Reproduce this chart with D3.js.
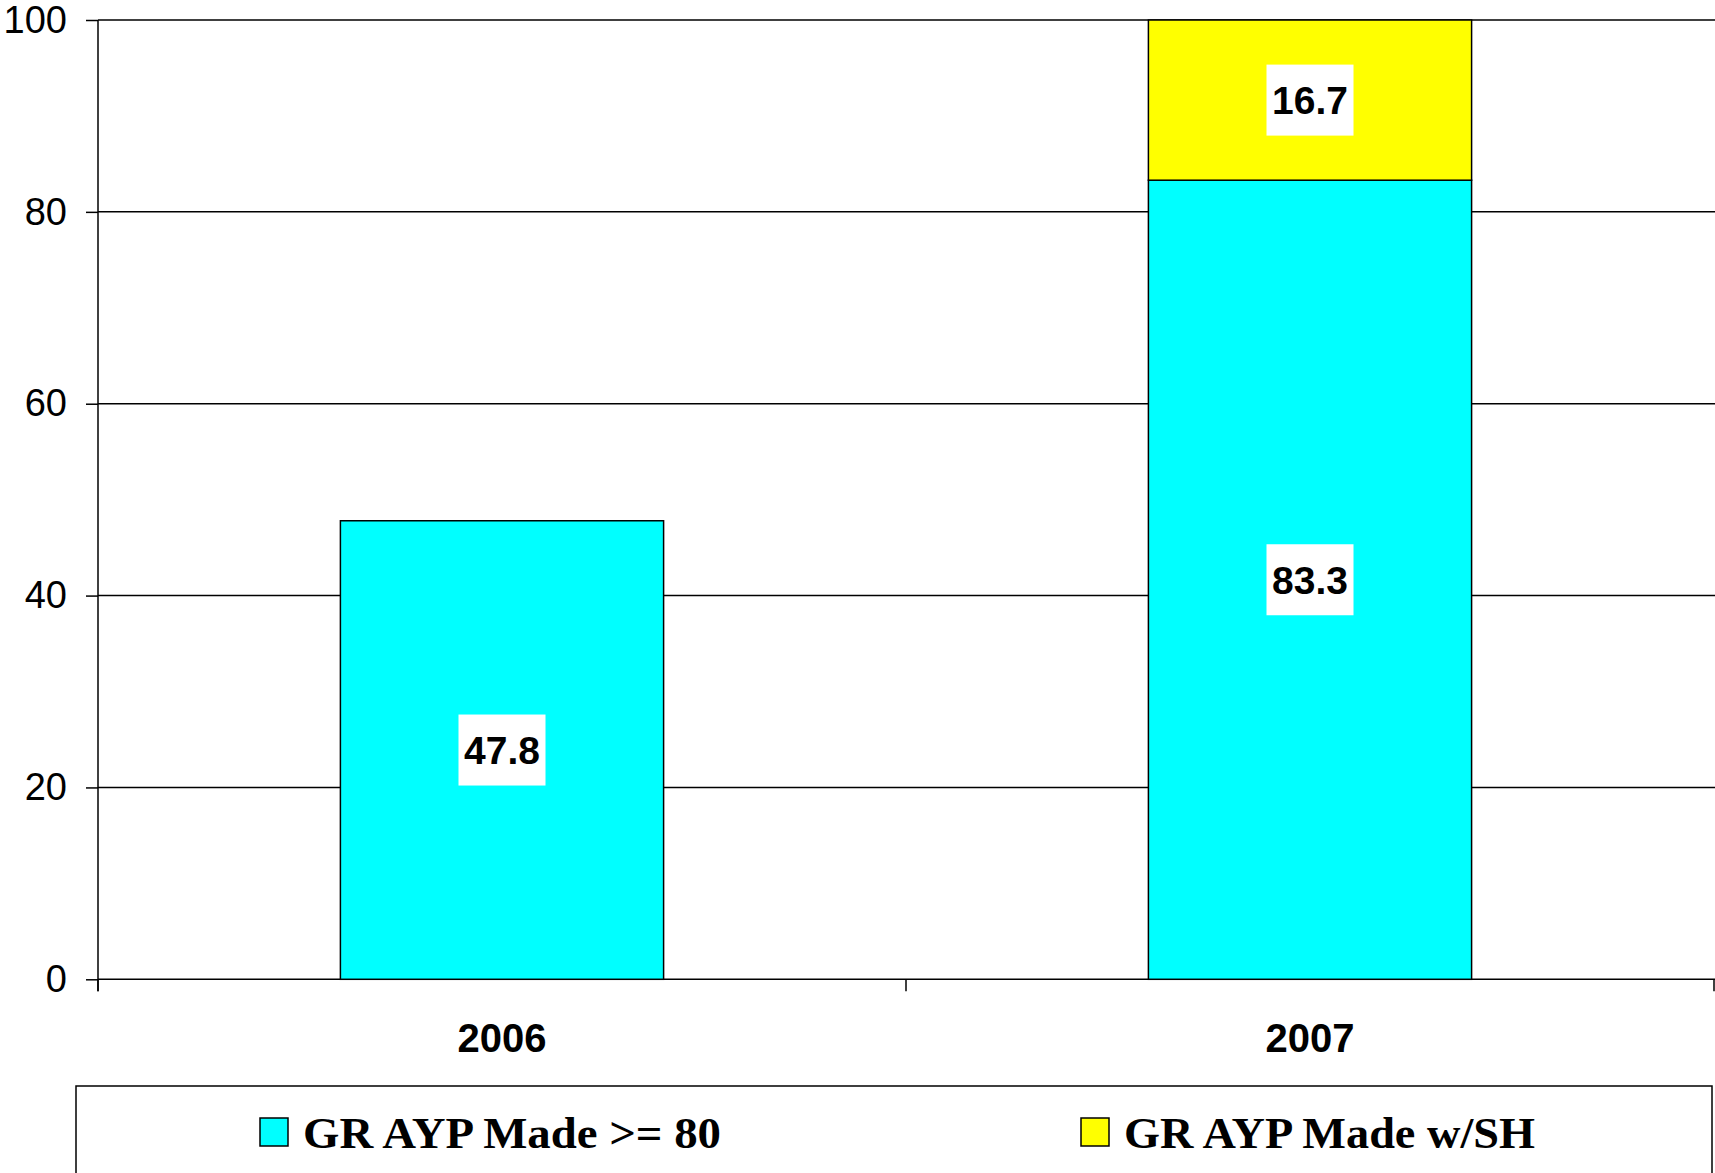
<!DOCTYPE html>
<html><head><meta charset="utf-8">
<script src="https://cdn.jsdelivr.net/npm/d3@7"></script>
<style>html,body{margin:0;padding:0;background:#fff;}svg{display:block;}</style>
</head><body>
<svg id="chart" width="1715" height="1173"></svg>
<script>
const categories = ["2006", "2007"];
const seriesNames = ["GR AYP Made >= 80", "GR AYP Made w/SH"];
const madeGE80 = [47.8, 83.3];
const madeWithSH = [null, 16.7];
const yTicks = [0, 20, 40, 60, 80, 100];
const colors = ["#00FFFF", "#FFFF00"];

(function () {
const svg = d3.select("#chart");
const pLeft = 98, pRight = 1714, pTop = 20, pBottom = 979.3;

const x = d3.scaleBand().domain(categories).range([pLeft, pRight]).paddingInner(0.6).paddingOuter(0.3);
const xOuter = d3.scaleBand().domain(categories).range([pLeft, pRight]);
const y = d3.scaleLinear().domain([0, 100]).range([pBottom, pTop]);

// gridlines
svg.append("g").selectAll("line").data(yTicks.filter(d => d > 0)).join("line")
  .attr("x1", pLeft).attr("x2", pRight + 1)
  .attr("y1", d => y(d)).attr("y2", d => y(d))
  .attr("stroke", "#000").attr("stroke-width", 1.5);

// y axis
const yAxis = d3.axisLeft(y).tickValues(yTicks).tickSize(12).tickPadding(19);
const gy = svg.append("g").attr("transform", `translate(${pLeft},0)`).call(yAxis);
gy.select(".domain").remove();
gy.selectAll(".tick line").attr("stroke", "#000").attr("stroke-width", 1.5);
gy.selectAll(".tick text").attr("font-family", "'Liberation Sans', Arial, sans-serif")
  .attr("font-size", 38).attr("fill", "#000");
svg.append("line").attr("x1", pLeft).attr("x2", pLeft).attr("y1", pTop).attr("y2", pBottom + 12)
  .attr("stroke", "#000").attr("stroke-width", 1.5);

// x axis
svg.append("line").attr("x1", pLeft).attr("x2", pRight + 1).attr("y1", pBottom).attr("y2", pBottom)
  .attr("stroke", "#000").attr("stroke-width", 1.5);
const xBoundaries = categories.map(c => xOuter(c)).concat([xOuter(categories[categories.length - 1]) + xOuter.bandwidth()]);
svg.append("g").selectAll("line").data(xBoundaries).join("line")
  .attr("x1", d => d).attr("x2", d => d).attr("y1", pBottom).attr("y2", pBottom + 12)
  .attr("stroke", "#000").attr("stroke-width", 1.5);
svg.append("g").selectAll("text").data(categories).join("text")
  .attr("x", d => x(d) + x.bandwidth() / 2).attr("y", 1052)
  .attr("text-anchor", "middle")
  .attr("font-family", "'Liberation Sans', Arial, sans-serif")
  .attr("font-weight", "bold").attr("font-size", 40).text(d => d);

// stacked bars
const rows = categories.map((c, i) => ({cat: c, s0: madeGE80[i] || 0, s1: madeWithSH[i] || 0}));
const stack = d3.stack().keys(["s0", "s1"])(rows);
stack.forEach((layer, li) => {
  const g = svg.append("g");
  layer.forEach((seg, i) => {
    const v = seg[1] - seg[0];
    if (!v) return;
    const cat = categories[i];
    g.append("rect")
      .attr("x", x(cat)).attr("width", x.bandwidth())
      .attr("y", y(seg[1])).attr("height", y(seg[0]) - y(seg[1]))
      .attr("fill", colors[li]).attr("stroke", "#000").attr("stroke-width", 1.5);
  });
});
// labels
stack.forEach((layer, li) => {
  layer.forEach((seg, i) => {
    const v = seg[1] - seg[0];
    if (!v) return;
    const cat = categories[i];
    const cx = x(cat) + x.bandwidth() / 2;
    const cy = (y(seg[0]) + y(seg[1])) / 2;
    const lg = svg.append("g");
    lg.append("rect").attr("x", cx - 43.5).attr("y", cy - 35.5)
      .attr("width", 87).attr("height", 71).attr("fill", "#fff");
    lg.append("text").attr("x", cx).attr("y", cy + 14)
      .attr("text-anchor", "middle")
      .attr("font-family", "'Liberation Sans', Arial, sans-serif")
      .attr("font-weight", "bold").attr("font-size", 39)
      .text(v.toFixed(1));
  });
});

// legend
svg.append("rect").attr("x", 76).attr("y", 1086).attr("width", 1636).attr("height", 100)
  .attr("fill", "#fff").attr("stroke", "#000").attr("stroke-width", 1.5);
const legendX = [260, 1081];
const legendW = [418, 411];
seriesNames.forEach((name, i) => {
  svg.append("rect").attr("x", legendX[i]).attr("y", 1118).attr("width", 28).attr("height", 28)
    .attr("fill", colors[i]).attr("stroke", "#000").attr("stroke-width", 1.5);
  svg.append("text").attr("x", legendX[i] + 43).attr("y", 1148)
    .attr("font-family", "'Liberation Serif', 'Times New Roman', serif")
    .attr("font-weight", "bold").attr("font-size", 44)
    .attr("textLength", legendW[i]).attr("lengthAdjust", "spacingAndGlyphs")
    .text(name);
});
})();
</script>
</body></html>
